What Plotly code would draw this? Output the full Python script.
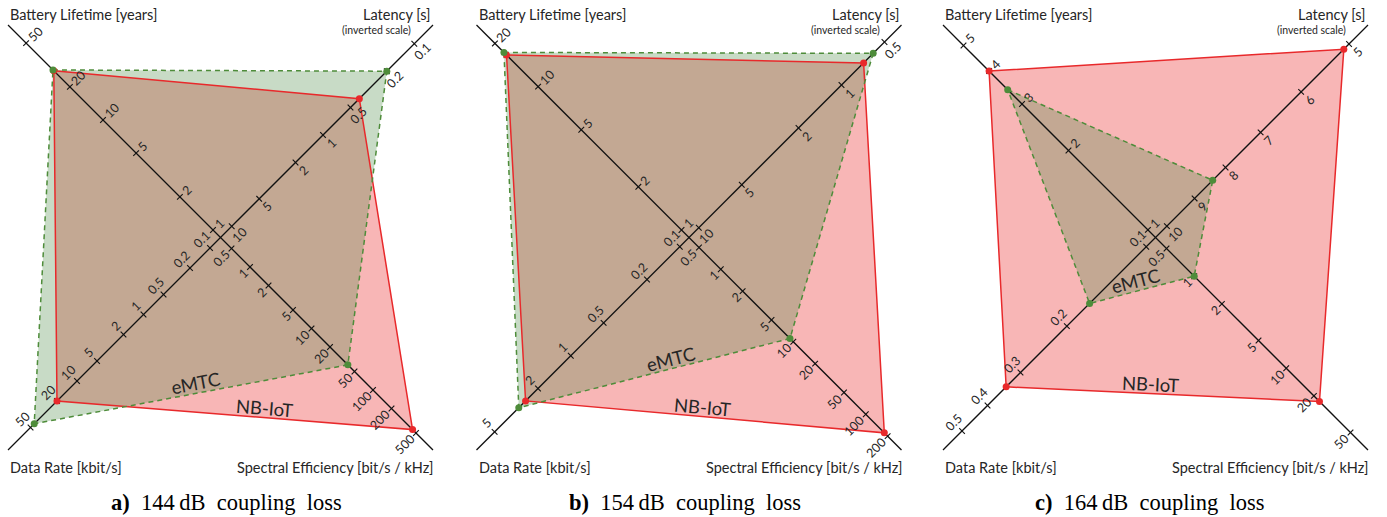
import math
import plotly.graph_objects as go

W, H = 1387, 517

# ---------------- data ----------------
panel_letters = ["a)", "b)", "c)"]
coupling_loss_db = [144, 154, 164]

battery_ticks = [[1, 2, 5, 10, 20, 50], [1, 2, 5, 10, 20], [1, 2, 3, 4, 5]]
latency_ticks = [[10, 5, 2, 1, 0.5, 0.2, 0.1], [10, 5, 2, 1, 0.5], [10, 9, 8, 7, 6, 5]]
rate_ticks = [[0.1, 0.2, 0.5, 1, 2, 5, 10, 20, 50], [0.1, 0.2, 0.5, 1, 2, 5],
              [0.1, 0.2, 0.3, 0.4, 0.5]]
spectral_ticks = [[0.5, 1, 2, 5, 10, 20, 50, 100, 200, 500],
                  [0.5, 1, 2, 5, 10, 20, 50, 100, 200],
                  [0.5, 1, 2, 5, 10, 20, 50]]

# NB-IoT per panel: battery lifetime [years], latency [s], data rate [kbit/s], spectral eff.
nbiot_battery = [28, 16.6, 4.0]
nbiot_latency = [0.4, 0.7, 5.1]
nbiot_rate = [20, 2.6, 0.34]
nbiot_spectral = [440, 180, 23]

# eMTC per panel
emtc_battery = [28.5, 17.3, 3.4]
emtc_latency = [0.2, 0.6, 8.4]
emtc_rate = [44, 3.0, 0.164]
emtc_spectral = [39, 9, 1.0]

# ---------------- geometry / style ----------------
PANEL_LEFT = [8, 476.5, 943]
PANEL_TOP = 25
HALF = 212.5

# log scale of every arm: (reference value, offset of that value from centre, px per decade)
SCALES = [
    {"battery": (1, 7.5, 110), "latency": (10, 11.2, 91.3),
     "rate": (0.1, 10.5, 66.5), "spectral": (1, 29.5, 61.5)},
    {"battery": (1, 7.5, 143.4), "latency": (10, 9.8, 142.7),
     "rate": (0.1, 9.2, 109), "spectral": (1, 31.8, 72.5)},
    {"battery": (1, 7.6, 263.8), "latency": (10, 11.4, 605),
     "rate": (0.1, 9.3, 263.5), "spectral": (1, 38.7, 92)},
]
DIRS = {"battery": (-1, -1), "latency": (1, -1), "spectral": (1, 1), "rate": (-1, 1)}
ARM_ORDER = ["battery", "latency", "spectral", "rate"]

RED_FILL = "rgba(235,45,45,0.35)"
RED_LINE = "#e8292b"
GREEN_FILL = "rgba(72,135,65,0.30)"
GREEN_LINE = "#4e8c3a"
TXT = "#262626"
FONT = "Lato"
SERIF = "Liberation Serif"
TICK_SIZE = 12.5
TITLE_SIZE = 14.5

emtc_label_t = [0.52, 0.57, 0.46]
nbiot_label_t = [0.58, 0.49, 0.46]
caption_x = [226, 684.5, 1150]

S2 = math.sqrt(2)


def centre(p):
    return PANEL_LEFT[p] + HALF, PANEL_TOP + HALF


def arm_distance(p, arm, v):
    ref, off, k = SCALES[p][arm]
    if arm == "latency":  # inverted scale
        return off + k * math.log10(ref / v)
    return off + k * math.log10(v / ref)


def arm_point(p, arm, v):
    cx, cy = centre(p)
    d = arm_distance(p, arm, v)
    sx, sy = DIRS[arm]
    return cx + sx * d, cy + sy * d


def text_width(s, size):
    return sum(0.27 * size if ch == "." else 0.54 * size for ch in s)


fig = go.Figure()
annotations = []


def polygon(p, values):
    xs, ys = [], []
    for arm, v in zip(ARM_ORDER, values):
        x, y = arm_point(p, arm, v)
        xs.append(x)
        ys.append(y)
    return xs, ys


for p in range(3):
    nb = polygon(p, [nbiot_battery[p], nbiot_latency[p], nbiot_spectral[p], nbiot_rate[p]])
    em = polygon(p, [emtc_battery[p], emtc_latency[p], emtc_spectral[p], emtc_rate[p]])

    # filled areas
    fig.add_trace(go.Scatter(x=nb[0] + nb[0][:1], y=nb[1] + nb[1][:1], mode="lines",
                             fill="toself", fillcolor=RED_FILL, line=dict(width=0),
                             hoverinfo="skip"))
    fig.add_trace(go.Scatter(x=em[0] + em[0][:1], y=em[1] + em[1][:1], mode="lines",
                             fill="toself", fillcolor=GREEN_FILL, line=dict(width=0),
                             hoverinfo="skip"))

    # the two crossing axis lines
    L, T = PANEL_LEFT[p], PANEL_TOP
    fig.add_trace(go.Scatter(x=[L, L + 2 * HALF, None, L + 2 * HALF, L],
                             y=[T, T + 2 * HALF, None, T, T + 2 * HALF],
                             mode="lines", line=dict(color="#111111", width=1.3),
                             hoverinfo="skip"))

    # ticks and tick labels
    tx, ty = [], []
    for arm, ticks in [("battery", battery_ticks[p]), ("latency", latency_ticks[p]),
                       ("rate", rate_ticks[p]), ("spectral", spectral_ticks[p])]:
        for v in ticks:
            x, y = arm_point(p, arm, v)
            if arm in ("battery", "spectral"):
                px, py = 1 / S2, -1 / S2
            else:
                px, py = 1 / S2, 1 / S2
            h = 4.0
            tx += [x - px * h, x + px * h, None]
            ty += [y - py * h, y + py * h, None]
            label = f"{v:g}"
            w = text_width(label, TICK_SIZE)
            if arm == "battery":
                nx, ny, dist = 1 / S2, -1 / S2, 6 + w / 2
            elif arm == "spectral":
                nx, ny, dist = -1 / S2, 1 / S2, 6 + w / 2
            elif arm == "rate":
                nx, ny, dist = -1 / S2, -1 / S2, 12
            else:
                nx, ny, dist = 1 / S2, 1 / S2, 11.5
            annotations.append(dict(x=x + nx * dist, y=y + ny * dist, text=label,
                                    showarrow=False, textangle=-45,
                                    xanchor="center", yanchor="middle",
                                    font=dict(family=FONT, size=TICK_SIZE, color=TXT)))
    fig.add_trace(go.Scatter(x=tx, y=ty, mode="lines",
                             line=dict(color="#111111", width=1.1), hoverinfo="skip"))

    # outlines
    fig.add_trace(go.Scatter(x=nb[0] + nb[0][:1], y=nb[1] + nb[1][:1], mode="lines",
                             line=dict(color=RED_LINE, width=1.5), hoverinfo="skip"))
    fig.add_trace(go.Scatter(x=em[0] + em[0][:1], y=em[1] + em[1][:1], mode="lines",
                             line=dict(color=GREEN_LINE, width=1.5, dash="5px,4px"),
                             hoverinfo="skip"))
    fig.add_trace(go.Scatter(x=nb[0], y=nb[1], mode="markers",
                             marker=dict(color=RED_LINE, size=7), hoverinfo="skip"))
    fig.add_trace(go.Scatter(x=em[0], y=em[1], mode="markers",
                             marker=dict(color=GREEN_LINE, size=7), hoverinfo="skip"))

    # series names along the lower edge of each polygon
    for name, poly, t in [("eMTC", em, emtc_label_t[p]), ("NB-IoT", nb, nbiot_label_t[p])]:
        x0, y0 = poly[0][3], poly[1][3]
        x1, y1 = poly[0][2], poly[1][2]
        ex, ey = x1 - x0, y1 - y0
        ln = math.hypot(ex, ey)
        ang = math.degrees(math.atan2(ey, ex))
        mx, my = x0 + t * ex, y0 + t * ey
        off = 10
        annotations.append(dict(x=mx + ey / ln * off, y=my - ex / ln * off, text=name,
                                showarrow=False, textangle=ang,
                                xanchor="center", yanchor="middle",
                                font=dict(family=FONT, size=18.5, color=TXT)))

    # axis titles
    annotations += [
        dict(x=L, y=14, text="Battery Lifetime [years]", xanchor="left", yanchor="middle",
             showarrow=False, font=dict(family=FONT, size=TITLE_SIZE, color=TXT)),
        dict(x=L + 2 * HALF, y=14, text="Latency [s]", xanchor="right", yanchor="middle",
             showarrow=False, font=dict(family=FONT, size=TITLE_SIZE, color=TXT)),
        dict(x=L + 2 * HALF - 20, y=30, text="(inverted scale)", xanchor="right",
             yanchor="middle", showarrow=False, font=dict(family=FONT, size=10.5, color=TXT)),
        dict(x=L, y=467, text="Data Rate [kbit/s]", xanchor="left", yanchor="middle",
             showarrow=False, font=dict(family=FONT, size=TITLE_SIZE, color=TXT)),
        dict(x=L + 2 * HALF + 2, y=467, text="Spectral Efficiency [bit/s / kHz]",
             xanchor="right", yanchor="middle", showarrow=False,
             font=dict(family=FONT, size=TITLE_SIZE, color=TXT)),
        dict(x=caption_x[p], y=502,
             text=f"<b>{panel_letters[p]}</b>\u00a0\u00a0{coupling_loss_db[p]}\u2009dB"
                  f"\u00a0 coupling\u00a0 loss",
             xanchor="center", yanchor="middle", showarrow=False,
             font=dict(family=SERIF, size=22.5, color="black")),
    ]

fig.update_layout(
    width=W, height=H, margin=dict(l=0, r=0, t=0, b=0),
    paper_bgcolor="white", plot_bgcolor="white", showlegend=False,
    xaxis=dict(range=[0, W], visible=False, fixedrange=True),
    yaxis=dict(range=[H, 0], visible=False, fixedrange=True),
    annotations=annotations,
)

fig.write_html("out.html", config={"displayModeBar": False})
